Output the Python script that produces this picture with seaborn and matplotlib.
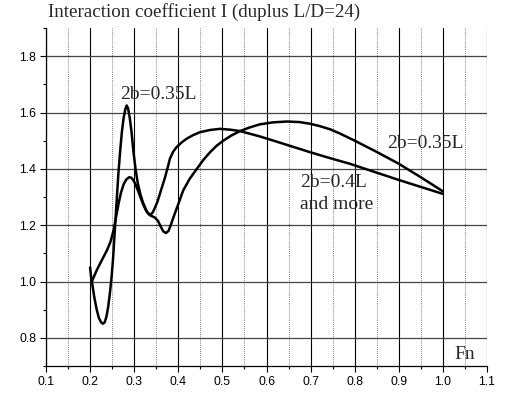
import matplotlib
matplotlib.use("Agg")
import matplotlib.pyplot as plt
import seaborn as sns
import pandas as pd
from matplotlib.ticker import MultipleLocator

# 2b = 0.35L curve
fn_035 = [0.200, 0.202, 0.205, 0.210, 0.215, 0.220, 0.225, 0.229, 0.233, 0.237, 0.241, 0.245,
          0.249, 0.252, 0.256, 0.260, 0.264, 0.268, 0.272, 0.276, 0.280, 0.283, 0.286, 0.290,
          0.294, 0.298, 0.303, 0.308, 0.314, 0.320, 0.328, 0.336, 0.347, 0.354, 0.360, 0.366,
          0.372, 0.378, 0.384, 0.389, 0.400, 0.411, 0.426, 0.442, 0.457, 0.472, 0.487, 0.502,
          0.520, 0.540, 0.562, 0.585, 0.615, 0.646, 0.675, 0.699, 0.720, 0.745, 0.767, 0.800,
          0.850, 0.900, 0.950, 1.000]
i_035 = [1.05, 1.02, 0.99, 0.94, 0.90, 0.87, 0.855, 0.85, 0.855, 0.875, 0.91, 0.96,
         1.02, 1.08, 1.18, 1.28, 1.38, 1.46, 1.53, 1.58, 1.613, 1.625, 1.615, 1.58,
         1.53, 1.465, 1.40, 1.35, 1.31, 1.28, 1.25, 1.235, 1.227, 1.215, 1.195, 1.178,
         1.172, 1.18, 1.205, 1.228, 1.275, 1.323, 1.365, 1.40, 1.432, 1.459, 1.482, 1.50,
         1.518, 1.534, 1.547, 1.558, 1.565, 1.568, 1.566, 1.560, 1.552, 1.540, 1.525, 1.50,
         1.46, 1.418, 1.37, 1.32]

# 2b = 0.4L and more curve
fn_040 = [0.204, 0.215, 0.228, 0.238, 0.246, 0.253, 0.259, 0.265, 0.270, 0.276, 0.282, 0.288,
          0.293, 0.298, 0.303, 0.308, 0.314, 0.320, 0.326, 0.331, 0.336, 0.342, 0.348, 0.353,
          0.358, 0.364, 0.370, 0.376, 0.381, 0.388, 0.396, 0.407, 0.419, 0.434, 0.449, 0.472,
          0.495, 0.518, 0.540, 0.585, 0.620, 0.699, 0.744, 0.789, 0.899, 1.000]
i_040 = [1.00, 1.04, 1.08, 1.11, 1.14, 1.18, 1.23, 1.28, 1.315, 1.345, 1.362, 1.370,
         1.369, 1.36, 1.345, 1.325, 1.30, 1.275, 1.255, 1.242, 1.236, 1.245, 1.265, 1.285,
         1.31, 1.34, 1.37, 1.405, 1.436, 1.46, 1.477, 1.493, 1.507, 1.520, 1.530, 1.538,
         1.542, 1.539, 1.534, 1.515, 1.498, 1.459, 1.438, 1.418, 1.361, 1.311]

title = "Interaction coefficient I (duplus L/D=24)"
x_label = "Fn"

sns.set_theme(style="ticks")
plt.rcParams["font.family"] = ["Liberation Sans", "DejaVu Sans"]

fig = plt.figure(figsize=(5.11, 3.98), dpi=100)
ax = fig.add_axes([46 / 511, 32 / 398, 441 / 511, 338 / 398])

df_a = pd.DataFrame({"Fn": fn_035, "I": i_035})
df_b = pd.DataFrame({"Fn": fn_040, "I": i_040})
sns.lineplot(data=df_a, x="Fn", y="I", ax=ax, color="black", lw=1.8, sort=False, estimator=None, zorder=5)
sns.lineplot(data=df_b, x="Fn", y="I", ax=ax, color="black", lw=1.8, sort=False, estimator=None, zorder=5)

ax.set_xlim(0.1, 1.1)
ax.set_ylim(0.7, 1.9)
ax.xaxis.set_major_locator(MultipleLocator(0.1))
ax.xaxis.set_minor_locator(MultipleLocator(0.05))
ax.yaxis.set_major_locator(MultipleLocator(0.2))
ax.yaxis.set_minor_locator(MultipleLocator(0.1))
ax.set_xlabel("")
ax.set_ylabel("")

ax.grid(which="major", axis="x", color="black", lw=0.8, linestyle="-")
ax.grid(which="minor", axis="x", color="#555555", lw=0.6, linestyle=(0, (1, 1.5)))
ax.grid(which="major", axis="y", color="#444444", lw=0.9, linestyle="-")
ax.xaxis.get_gridlines()[-1].set_visible(False)

ax.tick_params(which="major", direction="out", length=4, width=0.8, color="black",
               labelsize=8.8, pad=3, labelcolor="black")
ax.tick_params(which="minor", direction="out", length=2.5, width=0.8, color="black")
ax.set_xticklabels([f"{v:.1f}" for v in ax.get_xticks()])
ax.set_yticklabels([f"{v:.1f}" for v in ax.get_yticks()])

for s in ["top", "right"]:
    ax.spines[s].set_visible(False)
for s in ["left", "bottom"]:
    ax.spines[s].set_color("black")
    ax.spines[s].set_linewidth(0.9)

serif = ["Liberation Serif", "DejaVu Serif"]
ax.text(0.268, 1.664, "2b=0.35L", family=serif, fontsize=14, ha="left", va="center")
ax.text(0.873, 1.49, "2b=0.35L", family=serif, fontsize=14, ha="left", va="center")
ax.text(0.676, 1.352, "2b=0.4L", family=serif, fontsize=14, ha="left", va="center")
ax.text(0.676, 1.272, "and more", family=serif, fontsize=14, ha="left", va="center")
ax.text(1.025, 0.742, x_label, family=serif, fontsize=14, ha="left", va="center")
fig.text(48 / 511, 1 - 12 / 398, title, family=serif, fontsize=13.7, ha="left", va="center")

fig.savefig("out.png", dpi=100, facecolor="white")
